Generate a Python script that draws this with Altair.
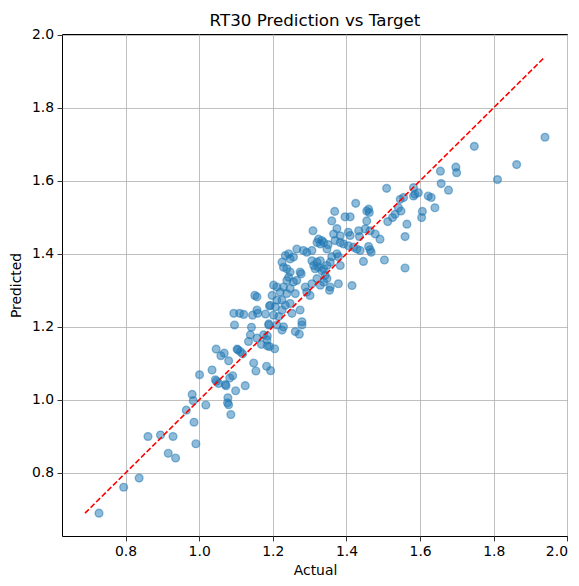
import altair as alt
import pandas as pd

actual = [
    0.728, 0.795, 0.837, 0.861, 0.895, 0.929, 0.916, 0.936, 0.991, 0.986,
    0.965, 0.981, 0.984, 1.018, 1.047, 1.053, 1.073, 1.078, 1.077, 1.080,
    1.086, 1.099, 1.125, 1.001, 1.035, 1.046, 1.059, 1.068, 1.080, 1.044,
    1.071, 1.091, 1.083, 1.103, 1.105, 1.112, 1.118, 1.148, 1.154, 1.139,
    1.134, 1.142, 1.169, 1.183, 1.194, 1.185, 1.191, 1.205, 1.185, 1.189,
    1.094, 1.110, 1.096, 1.151, 1.157, 1.145, 1.157, 1.159, 1.180, 1.191,
    1.309, 1.365, 1.374, 1.383, 1.324, 1.333, 1.338, 1.329, 1.320, 1.347,
    1.306, 1.292, 1.283, 1.265, 1.243, 1.256, 1.234, 1.247, 1.374, 1.392,
    1.405, 1.225, 1.229, 1.238, 1.247, 1.243, 1.274, 1.306, 1.320, 1.329,
    1.311, 1.324, 1.315, 1.338, 1.347, 1.356, 1.383, 1.342, 1.347, 1.338,
    1.356, 1.354, 1.378, 1.415, 1.238, 1.256, 1.265, 1.229, 1.247, 1.211,
    1.202, 1.220, 1.238, 1.261, 1.288, 1.292, 1.301, 1.198, 1.211, 1.225,
    1.234, 1.247, 1.193, 1.207, 1.225, 1.252, 1.274, 1.216, 1.202, 1.189,
    1.211, 1.229, 1.225, 1.261, 1.279, 1.279, 1.121, 1.157, 1.175, 1.184,
    1.509, 1.582, 1.586, 1.582, 1.555, 1.546, 1.622, 1.630, 1.640, 1.606,
    1.604, 1.564, 1.559, 1.559, 1.503, 1.446, 1.277, 1.272, 1.425, 1.368,
    1.460, 1.462, 1.455, 1.396, 1.410, 1.360, 1.541, 1.548, 1.532, 1.525,
    1.512, 1.478, 1.491, 1.464, 1.455, 1.451, 1.433, 1.435, 1.405, 1.410,
    1.383, 1.369, 1.350, 1.419, 1.428, 1.437, 1.464, 1.460, 1.467, 1.378,
    1.333, 1.360, 1.306, 1.320, 1.329, 1.939, 1.862, 1.810, 1.747, 1.697,
    1.699, 1.655, 1.657, 1.677, 1.595,
]

predicted = [
    0.690, 0.761, 0.786, 0.900, 0.904, 0.900, 0.854, 0.841, 0.880, 0.939,
    0.972, 1.015, 0.998, 0.986, 1.051, 1.045, 1.039, 1.006, 0.992, 0.987,
    0.960, 1.025, 1.039, 1.069, 1.082, 1.139, 1.121, 1.128, 1.107, 1.055,
    1.042, 1.066, 1.060, 1.139, 1.137, 1.132, 1.126, 1.101, 1.079, 1.178,
    1.160, 1.199, 1.152, 1.092, 1.080, 1.148, 1.146, 1.140, 1.175, 1.208,
    1.237, 1.237, 1.205, 1.286, 1.282, 1.232, 1.246, 1.237, 1.235, 1.257,
    1.463, 1.454, 1.469, 1.449, 1.440, 1.436, 1.431, 1.427, 1.431, 1.413,
    1.409, 1.404, 1.409, 1.413, 1.400, 1.391, 1.395, 1.386, 1.400, 1.427,
    1.422, 1.377, 1.363, 1.359, 1.350, 1.336, 1.350, 1.381, 1.377, 1.381,
    1.368, 1.363, 1.359, 1.359, 1.368, 1.377, 1.368, 1.341, 1.332, 1.323,
    1.309, 1.300, 1.318, 1.313, 1.327, 1.323, 1.327, 1.309, 1.305, 1.309,
    1.314, 1.295, 1.291, 1.291, 1.309, 1.295, 1.286, 1.286, 1.273, 1.273,
    1.259, 1.264, 1.259, 1.255, 1.246, 1.237, 1.246, 1.228, 1.232, 1.205,
    1.205, 1.200, 1.191, 1.187, 1.205, 1.214, 1.234, 1.169, 1.178, 1.164,
    1.579, 1.581, 1.563, 1.558, 1.554, 1.549, 1.558, 1.554, 1.526, 1.516,
    1.499, 1.481, 1.447, 1.361, 1.383, 1.379, 1.345, 1.180, 1.538, 1.516,
    1.522, 1.513, 1.517, 1.501, 1.501, 1.490, 1.526, 1.517, 1.508, 1.499,
    1.488, 1.454, 1.440, 1.463, 1.490, 1.468, 1.463, 1.447, 1.459, 1.450,
    1.431, 1.436, 1.425, 1.418, 1.413, 1.409, 1.411, 1.420, 1.404, 1.392,
    1.354, 1.392, 1.318, 1.332, 1.314, 1.719, 1.644, 1.603, 1.694, 1.637,
    1.622, 1.626, 1.592, 1.574, 1.567,
]

x_ticks = [0.8, 1.0, 1.2, 1.4, 1.6, 1.8, 2.0]
y_ticks = [0.8, 1.0, 1.2, 1.4, 1.6, 1.8, 2.0]
title_text = ["RT30 Prediction vs Target"]

lo = min(min(actual), min(predicted))
hi = max(max(actual), max(predicted))
margin = (hi - lo) * 0.05
domain = [lo - margin, hi + margin]

points = pd.DataFrame({"Actual": actual, "Predicted": predicted})
ideal = pd.DataFrame({"Actual": [lo, hi], "Predicted": [lo, hi]})
title_df = pd.DataFrame({"t": title_text})

FONT = "DejaVu Sans"
W, H = 506, 502

x_enc = alt.X(
    "Actual:Q",
    title="Actual",
    scale=alt.Scale(domain=domain, nice=False, zero=False),
    axis=alt.Axis(values=x_ticks, format=".1f", titlePadding=5),
)
y_enc = alt.Y(
    "Predicted:Q",
    title="Predicted",
    scale=alt.Scale(domain=domain, nice=False, zero=False),
    axis=alt.Axis(values=y_ticks, format=".1f", titlePadding=8),
)

scatter = alt.Chart(points).mark_point(
    filled=True,
    shape="circle",
    size=60,
    color="#1f77b4",
    fillOpacity=0.5,
    strokeOpacity=0.5,
    stroke="#1f77b4",
    strokeWidth=1.4,
).encode(x=x_enc, y=y_enc)

line = alt.Chart(ideal).mark_line(
    color="#ff0000",
    strokeWidth=1.6,
    strokeDash=[5.5, 2.4],
).encode(x="Actual:Q", y="Predicted:Q")

title = alt.Chart(title_df).mark_text(
    font=FONT,
    fontSize=16.7,
    color="#000000",
    align="center",
    baseline="alphabetic",
).encode(text="t:N", x=alt.value(W / 2), y=alt.value(-8))

chart = (
    alt.layer(scatter, line, title)
    .properties(
        width=W,
        height=H,
        autosize=alt.AutoSizeParams(type="none"),
        padding={"left": 54, "top": 26, "right": 0, "bottom": 42},
    )
    .configure_view(stroke="#000000", strokeWidth=1)
    .configure_axis(
        grid=True,
        gridColor="#b0b0b0",
        gridWidth=0.8,
        domain=False,
        tickColor="#000000",
        tickSize=4.9,
        tickWidth=0.8,
        labelFont=FONT,
        labelFontSize=13.9,
        labelColor="#000000",
        labelPadding=3.5,
        titleFont=FONT,
        titleFontSize=13.9,
        titleFontWeight="normal",
        titleColor="#000000",
    )
)

chart.save("out.html", embed_options={"renderer": "svg", "actions": False})
